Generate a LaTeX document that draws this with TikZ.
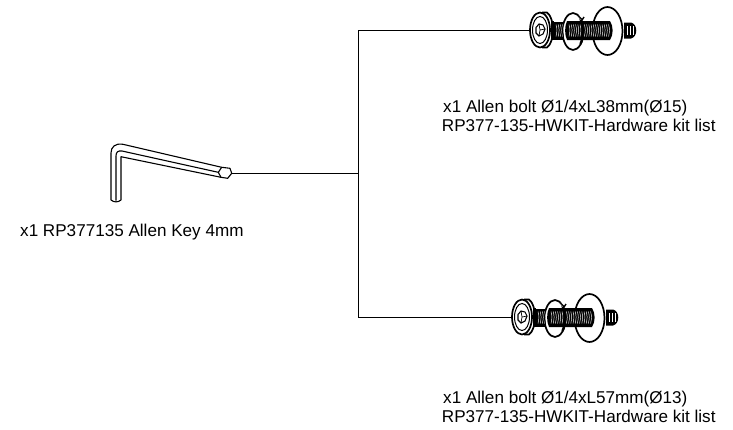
\documentclass[tikz,border=0pt]{standalone}
\usepackage{fontspec}
\setmainfont{Liberation Sans}
\tikzset{
  wire/.style={draw=black,line width=1pt},
  lbl/.style={inner sep=0pt,anchor=base west,font=\fontsize{17.1}{19}\selectfont,align=left},
  ln/.style={draw=black,line width=1.1pt,line join=round},
  thick part/.style={draw=black,line width=1.7pt,fill=white},
  bolthardware/.pic={
    % end of screw
    \fill[black] (84,-7.5) -- (91,-7.5) .. controls (98,-6) and (98,7) .. (91,8.5) -- (84,8.5) -- cycle;
    \foreach \x in {87,90,93} \draw[white,line width=0.4pt] (\x,-4) -- (\x,5);
    % large washer
    \draw[thick part] (67.5,1) ellipse [x radius=15,y radius=24];
    % lock washer
    \draw[thick part] (33,1.5) ellipse [x radius=10.5,y radius=18.5];
    % thread
    \fill[black] (13,-8.5) rectangle (24,9.5);
    \fill[black] (27,-9) -- (70,-9) .. controls (73.5,-4) and (73.5,5) .. (70,10) -- (27,10) .. controls (24.5,5) and (24.5,-4) .. (27,-9) -- cycle;
    \foreach \x in {16,18.2,...,23,29,31.2,...,69} \draw[white,line width=0.45pt] (\x,-5.5) .. controls (\x+1.2,0) .. (\x,6.5);
    % lock washer front edge and split
    \draw[black,line width=2.4pt] (40.5,-11) .. controls (43.5,-6) and (43.5,8) .. (40.5,14);
    \fill[white] (37,-15) -- (42,-14) -- (45,-9) -- (41,-10) -- cycle;
    \draw[black,line width=1.4pt] (37,-15.5) -- (41.5,-11) (44,-13) -- (41,-8.5);
    % head flange
    \draw[thick part] (3,-17.5) -- (7,-17.5) .. controls (15,-12) and (15,12) .. (7,17.5) -- (3,17.5) -- cycle;
    \fill[black] (10.5,-9) rectangle (14,9.5);
    \draw[thick part] (0,0) ellipse [x radius=10,y radius=17.5];
    \draw[black,line width=1pt] (0,0) ellipse [x radius=7.5,y radius=13.5];
    \draw[black,line width=1.1pt] (-4,-2.5) -- (-1,-6) -- (3,-5) -- (5,-1) -- (3,4) -- (-1,6) -- (-4,3) -- cycle;
    \draw[black,line width=0.7pt] (-1,-6) -- (0,0) -- (5,-1) (0,0) -- (-1,6);
  }
}
\begin{document}
\begin{tikzpicture}[x=1pt,y=-1pt]
\useasboundingbox (0,0) rectangle (733,429);
% Allen key
\draw[ln,fill=white] (221.7,167.3) -- (123,144.3) .. controls (115,143) and (111,147) .. (111,153) -- (111,200)
  .. controls (114,202.5) and (118,202.5) .. (121,200) -- (121,156.7) -- (221,177.3) -- cycle;
\draw[ln] (116,200.5) -- (116,156) .. controls (116,152) and (118,150.5) .. (122,151) -- (218.3,172.3);
\draw[ln,fill=white] (221.7,167.3) -- (230,168.3) -- (231.7,173.3) -- (227.7,178.3) -- (221,177.3) -- (218.3,172.3) -- cycle;
% connectors
\coordinate (key) at (231.7,173);
\coordinate (junction) at (358,173);
\coordinate (topcorner) at (358,30);
\coordinate (botcorner) at (358,317);
\pic (bolta) at (540,30) {bolthardware};
\pic (boltb) at (522,317) {bolthardware};
\coordinate (boltaend) at (530,30);
\coordinate (boltbend) at (512,317);
\draw[wire] (key) -- (junction);
\draw[wire] (boltaend) -- (topcorner) -- (botcorner) -- (boltbend);
% labels
\node[lbl] (t1) at (20,236) {x1 RP377135 Allen Key 4mm};
\node[lbl] (t2) at (443,112) {x1 Allen bolt Ø1/4xL38mm(Ø15)};
\node[lbl] (t3) at (441.7,131) {RP377-135-HWKIT-Hardware kit list};
\node[lbl] (t4) at (443,403) {x1 Allen bolt Ø1/4xL57mm(Ø13)};
\node[lbl] (t5) at (441.7,422) {RP377-135-HWKIT-Hardware kit list};
\end{tikzpicture}
\end{document}
